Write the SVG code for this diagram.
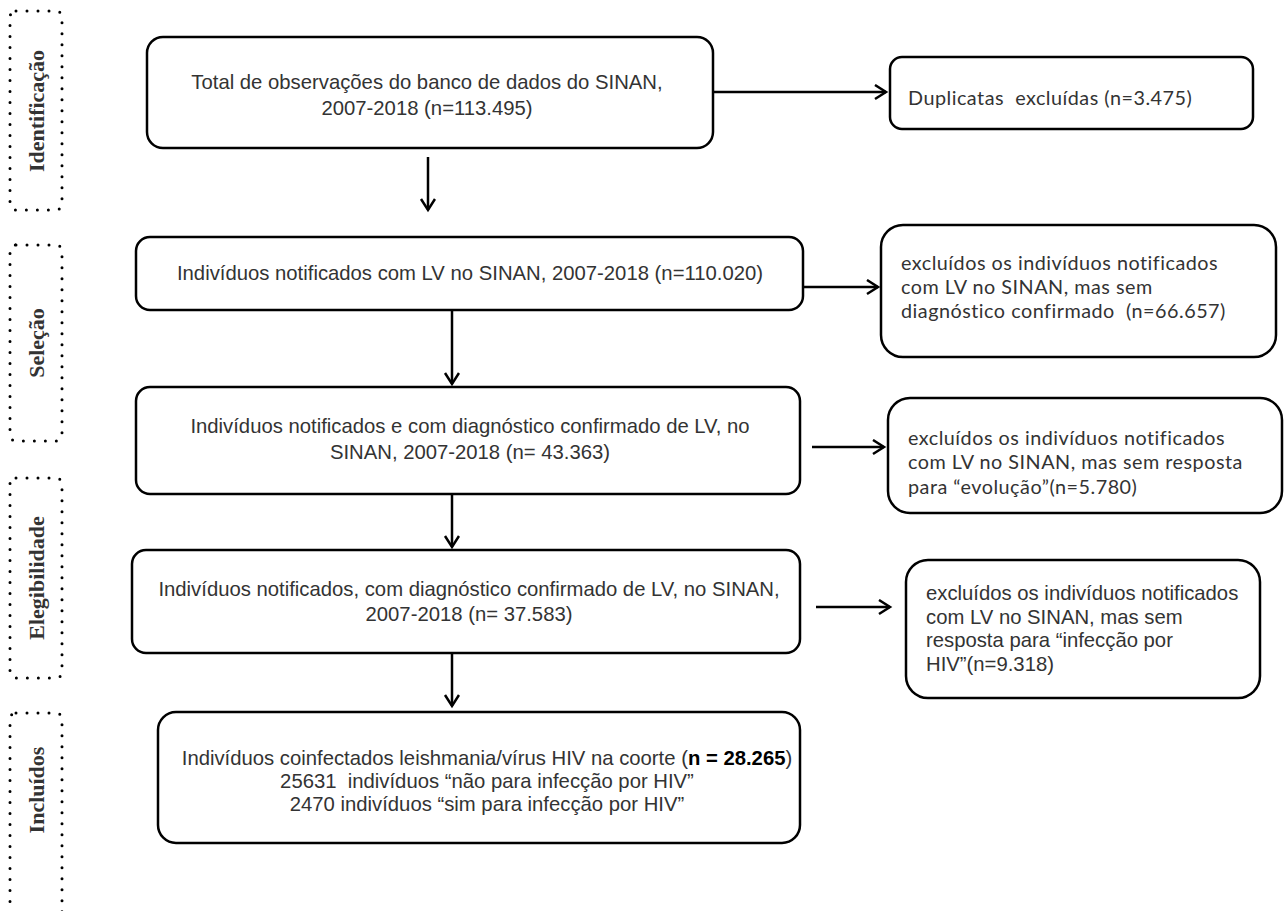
<svg xmlns="http://www.w3.org/2000/svg" width="1285" height="911" viewBox="0 0 1285 911">
<defs>
<marker id="arr" markerUnits="userSpaceOnUse" markerWidth="20" markerHeight="20" refX="12" refY="8" orient="auto">
<path d="M1,1 L12,8 L1,15" fill="none" stroke="#000" stroke-width="2.5"/>
</marker>
<style>
.box{fill:#fff;stroke:#000;stroke-width:2.5}
.side{fill:none;stroke:#000;stroke-width:3;stroke-dasharray:0 11;stroke-linecap:round}
.lbl{font-family:"Liberation Serif",serif;font-weight:bold;font-size:22px;fill:#333;text-anchor:middle}
.t{font-family:"Liberation Sans",Arial,sans-serif;font-size:20.3px;fill:#333;white-space:pre}
.c{text-anchor:middle}
.k{font-family:Lato,"Open Sans",sans-serif;font-size:19.8px;letter-spacing:0.5px;fill:#333;white-space:pre}
.ln{stroke:#000;stroke-width:2.5;fill:none;marker-end:url(#arr)}
</style>
</defs>
<g id="stages">
<g id="stage-identificacao"><rect class="side" x="10" y="11" width="52" height="199" rx="6"/><text class="lbl" transform="translate(44,111) rotate(-90)">Identificação</text></g>
<g id="stage-selecao"><rect class="side" x="10" y="245" width="52" height="196" rx="6"/><text class="lbl" transform="translate(44,343) rotate(-90)">Seleção</text></g>
<g id="stage-elegibilidade"><rect class="side" x="10" y="478" width="52" height="200" rx="6"/><text class="lbl" transform="translate(44,578) rotate(-90)">Elegibilidade</text></g>
<g id="stage-incluidos"><rect class="side" x="10" y="713" width="52" height="220" rx="6"/><text class="lbl" transform="translate(44,790) rotate(-90)">Incluídos</text></g>
</g>
<g id="connectors">
<line class="ln" x1="713" y1="92" x2="886" y2="92"/>
<line class="ln" x1="428" y1="157" x2="428" y2="210"/>
<line class="ln" x1="803" y1="287" x2="878" y2="287"/>
<line class="ln" x1="452" y1="310" x2="452" y2="384"/>
<line class="ln" x1="812" y1="447" x2="884" y2="447"/>
<line class="ln" x1="452" y1="494" x2="452" y2="547"/>
<line class="ln" x1="816" y1="607" x2="890" y2="607"/>
<line class="ln" x1="452" y1="653" x2="452" y2="706"/>
</g>
<g id="n1"><rect class="box" x="147" y="37" width="566" height="111" rx="16"/>
<text class="t c" x="427" y="89">Total de observações do banco de dados do SINAN,</text>
<text class="t c" x="427" y="115">2007-2018 (n=113.495)</text></g>
<g id="d1"><rect class="box" x="890" y="57" width="363" height="72" rx="12"/>
<text class="k" x="908" y="105">Duplicatas  excluídas (n=3.475)</text></g>
<g id="n2"><rect class="box" x="136" y="237" width="667" height="73" rx="14"/>
<text class="t c" x="470" y="280">Indivíduos notificados com LV no SINAN, 2007-2018 (n=110.020)</text></g>
<g id="e1"><rect class="box" x="881" y="225" width="395" height="132" rx="22"/>
<text class="k" x="901" y="270">excluídos os indivíduos notificados</text>
<text class="k" x="901" y="294">com LV no SINAN, mas sem</text>
<text class="k" x="901" y="318">diagnóstico confirmado  (n=66.657)</text></g>
<g id="n3"><rect class="box" x="136" y="387" width="664" height="107" rx="14"/>
<text class="t c" x="470" y="433">Indivíduos notificados e com diagnóstico confirmado de LV, no</text>
<text class="t c" x="470" y="459">SINAN, 2007-2018 (n= 43.363)</text></g>
<g id="e2"><rect class="box" x="888" y="398" width="394" height="115" rx="22"/>
<text class="k" x="908" y="445">excluídos os indivíduos notificados</text>
<text class="k" x="908" y="469">com LV no SINAN, mas sem resposta</text>
<text class="k" x="908" y="494">para “evolução”(n=5.780)</text></g>
<g id="n4"><rect class="box" x="132" y="550" width="668" height="103" rx="14"/>
<text class="t c" x="469" y="596">Indivíduos notificados, com diagnóstico confirmado de LV, no SINAN,</text>
<text class="t c" x="469" y="621">2007-2018 (n= 37.583)</text></g>
<g id="e3"><rect class="box" x="906" y="560" width="354" height="138" rx="22"/>
<text class="t" x="926" y="600">excluídos os indivíduos notificados</text>
<text class="t" x="926" y="624">com LV no SINAN, mas sem</text>
<text class="t" x="926" y="647">resposta para “infecção por</text>
<text class="t" x="926" y="671">HIV”(n=9.318)</text></g>
<g id="n5"><rect class="box" x="158" y="712" width="642" height="131" rx="18"/>
<text class="t c" x="487" y="765">Indivíduos coinfectados leishmania/vírus HIV na coorte (<tspan font-weight="bold" fill="#000">n = 28.265</tspan>)</text>
<text class="t c" x="487" y="788">25631  indivíduos “não para infecção por HIV”</text>
<text class="t c" x="487" y="811">2470 indivíduos “sim para infecção por HIV”</text></g>
</svg>
